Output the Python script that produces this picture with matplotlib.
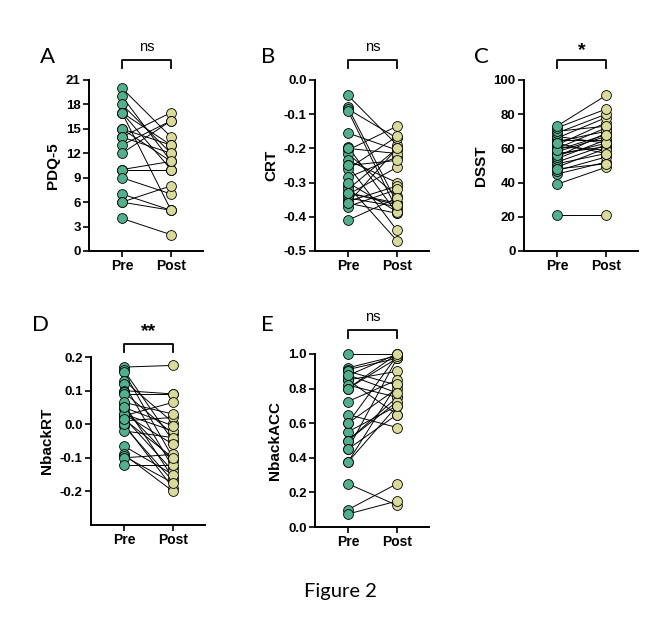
import matplotlib
matplotlib.use("Agg")
import matplotlib.pyplot as plt
import matplotlib.transforms as mtransforms

# ---------------- data ----------------
groups = ["Pre", "Post"]

pdq_pre = [20, 19, 18, 17, 17, 17, 15, 15, 14, 14, 13, 12, 10, 10, 10, 9, 7, 6, 6, 4]
pdq_post = [14, 11, 12, 10, 5, 13, 13, 11, 17, 12, 16, 16, 10, 10, 11, 7, 5, 8, 5, 2]

crt_pre = [-0.045, -0.08, -0.085, -0.09, -0.155, -0.195, -0.205, -0.215, -0.235, -0.25,
           -0.26, -0.285, -0.31, -0.32, -0.33, -0.335, -0.345, -0.355, -0.36, -0.37,
           -0.41, -0.30, -0.20, -0.25, -0.33, -0.36]
crt_post = [-0.19, -0.36, -0.17, -0.38, -0.205, -0.39, -0.135, -0.34, -0.30, -0.44,
            -0.165, -0.225, -0.47, -0.20, -0.36, -0.255, -0.37, -0.31, -0.39, -0.32,
            -0.345, -0.385, -0.215, -0.235, -0.365, -0.20]

dsst_pre = [21, 39, 45, 47, 49, 51, 52, 54, 55, 57, 58, 60, 61, 62, 64, 65, 66, 67, 69,
            70, 72, 73, 56, 48, 59, 63]
dsst_post = [21, 49, 52, 55, 60, 57, 62, 65, 69, 61, 67, 72, 59, 75, 70, 65, 78, 63, 80,
             73, 83, 91, 63, 51, 68, 57]

nrt_pre = [0.17, 0.16, 0.155, 0.13, 0.12, 0.10, 0.095, 0.09, 0.06, 0.045, 0.03, 0.025,
           0.02, 0.01, -0.005, -0.02, 0.0, 0.03, -0.065, -0.09, -0.095, -0.10, -0.12,
           0.065, 0.015, 0.05]
nrt_post = [0.175, -0.05, -0.10, 0.005, -0.13, 0.09, -0.03, 0.09, -0.16, -0.11, -0.02,
            0.065, -0.14, 0.02, -0.17, -0.04, -0.19, -0.06, -0.15, -0.20, -0.175, -0.09,
            -0.12, 0.03, -0.10, -0.005]

nacc_pre = [1.0, 0.92, 0.91, 0.90, 0.875, 0.85, 0.85, 0.82, 0.80, 0.725, 0.65, 0.60,
            0.55, 0.50, 0.50, 0.45, 0.45, 0.375, 0.375, 0.25, 0.10, 0.075, 0.88, 0.60, 0.80]
nacc_post = [1.0, 0.99, 0.975, 0.82, 1.0, 0.65, 0.90, 0.75, 0.975, 0.85, 0.575, 0.80,
             0.70, 0.75, 0.725, 0.975, 0.65, 0.70, 0.825, 0.125, 0.25, 0.15, 0.775, 0.99, 1.0]

panels = [
    dict(letter="A", ylabel="PDQ-5", pre=pdq_pre, post=pdq_post, ylim=(0, 21),
         ticks=[0, 3, 6, 9, 12, 15, 18, 21], fmt="{:.0f}", sig="ns"),
    dict(letter="B", ylabel="CRT", pre=crt_pre, post=crt_post, ylim=(-0.5, 0.0),
         ticks=[-0.5, -0.4, -0.3, -0.2, -0.1, 0.0], fmt="{:.1f}", sig="ns"),
    dict(letter="C", ylabel="DSST", pre=dsst_pre, post=dsst_post, ylim=(0, 100),
         ticks=[0, 20, 40, 60, 80, 100], fmt="{:.0f}", sig="*"),
    dict(letter="D", ylabel="NbackRT", pre=nrt_pre, post=nrt_post, ylim=(-0.3, 0.2),
         ticks=[-0.2, -0.1, 0.0, 0.1, 0.2], fmt="{:.1f}", sig="**"),
    dict(letter="E", ylabel="NbackACC", pre=nacc_pre, post=nacc_post, ylim=(0.0, 1.0),
         ticks=[0.0, 0.2, 0.4, 0.6, 0.8, 1.0], fmt="{:.1f}", sig="ns"),
]

# ---------------- layout (pixel based) ----------------
W, H = 664, 620
fig = plt.figure(figsize=(W / 100, H / 100), dpi=100)

boxes = [(89, 80, 251), (315, 80, 251), (524, 80, 251), (91, 357, 525), (315, 354, 527)]
letter_pos = [(47, 57), (268, 57), (481, 57), (41, 325), (267, 325)]
axw = 114

pre_color = "#52B08C"
post_color = "#DADB9B"
tickfont = dict(family="Liberation Sans", weight="bold")

for p, (l, t, b), (lx, ly) in zip(panels, boxes, letter_pos):
    ax = fig.add_axes([l / W, 1 - b / H, axw / W, (b - t) / H])
    for a, c in zip(p["pre"], p["post"]):
        ax.plot([0, 1], [a, c], color="black", lw=0.7, zorder=1)
    ax.scatter([0] * len(p["pre"]), p["pre"], s=50, color=pre_color,
               edgecolor="black", linewidth=0.6, zorder=3, clip_on=False)
    ax.scatter([1] * len(p["post"]), p["post"], s=50, color=post_color,
               edgecolor="black", linewidth=0.6, zorder=3, clip_on=False)
    ax.set_xlim(-0.67, 1.65)
    ax.set_ylim(*p["ylim"])
    ax.set_yticks(p["ticks"])
    ax.set_yticklabels([p["fmt"].format(v) for v in p["ticks"]],
                       fontsize=9.5, **tickfont)
    ax.set_xticks([0, 1])
    ax.set_xticklabels(groups, fontsize=10, **tickfont)
    ax.set_ylabel(p["ylabel"], fontsize=11, labelpad=4, **tickfont)
    for s in ["top", "right"]:
        ax.spines[s].set_visible(False)
    for s in ["left", "bottom"]:
        ax.spines[s].set_linewidth(1.4)
    ax.tick_params(width=1.2, length=4, pad=2)

    hpx = b - t
    trans = mtransforms.blended_transform_factory(ax.transData, ax.transAxes)
    if p["letter"] in "ABC":
        yb, yt, ytext = 60, 68, 47
    elif p["letter"] == "D":
        yb, yt, ytext = 344, 352, 328
    else:
        yb, yt, ytext = 330, 338, 317
    fy = lambda y: (b - y) / hpx
    ax.plot([0, 0, 1, 1], [fy(yt), fy(yb), fy(yb), fy(yt)], color="black", lw=1.3,
            transform=trans, clip_on=False)
    if p["sig"] == "ns":
        ax.text(0.5, fy(ytext), "ns", transform=trans, ha="center", va="center",
                fontsize=10.5, family="Liberation Sans")
    else:
        ax.text(0.5, fy(ytext + 4), p["sig"], transform=trans, ha="center", va="center",
                fontsize=14, family="Liberation Sans", weight="bold")

    fig.text(lx / W, 1 - ly / H, p["letter"], ha="center", va="center",
             fontsize=16, family="Lato")

fig.text(340 / W, 1 - 592 / H, "Figure 2", ha="center", va="center",
         fontsize=14.5, family="Lato")

fig.savefig("out.png", dpi=100)
